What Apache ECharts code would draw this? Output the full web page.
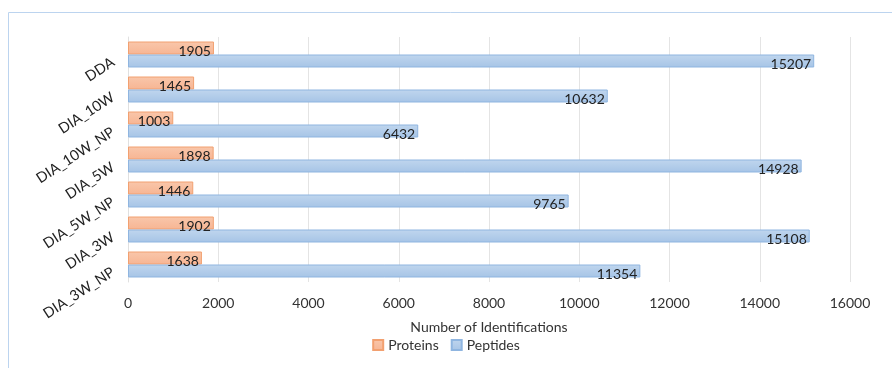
<!DOCTYPE html>
<html><head><meta charset="utf-8">
<script src="https://cdn.jsdelivr.net/npm/echarts@6/dist/echarts.min.js"></script>
<style>html,body{margin:0;padding:0;background:#fff}#c{width:892px;height:368px}</style>
</head><body><div id="c"></div>
<script>
const categories = ['DDA','DIA_10W','DIA_10W_NP','DIA_5W','DIA_5W_NP','DIA_3W','DIA_3W_NP'];
const proteins = [1905,1465,1003,1898,1446,1902,1638];
const peptides = [15207,10632,6432,14928,9765,15108,11354];
const xTicks = {min:0,max:16000,interval:2000};
const FONT = 'Lato';
const chart = echarts.init(document.getElementById('c'));
chart.setOption({
  animation:false,
  textStyle:{fontFamily:FONT},
  graphic:[
    {type:'line',shape:{x1:8.5,y1:12.5,x2:892,y2:12.5},style:{stroke:'#bcd4ef',lineWidth:1}},
    {type:'line',shape:{x1:8.5,y1:12.5,x2:8.5,y2:368},style:{stroke:'#bcd4ef',lineWidth:1}}
  ],
  grid:{left:128,right:42,top:37,bottom:86},
  legend:{bottom:11,left:'center',itemWidth:10,itemHeight:10,itemGap:12,itemTextGap:4,
    textStyle:{fontFamily:FONT,fontSize:14,color:'#333'},
    data:[{name:'Proteins',icon:'rect'},{name:'Peptides',icon:'rect'}]},
  xAxis:{type:'value',min:xTicks.min,max:xTicks.max,interval:xTicks.interval,
    name:'Number of Identifications',nameLocation:'middle',nameGap:38,
    nameTextStyle:{fontFamily:FONT,fontSize:14,color:'#333'},
    axisLine:{show:false},axisTick:{show:false},
    axisLabel:{fontFamily:FONT,fontSize:14,color:'#333',margin:14,formatter:v=>String(v)},
    splitLine:{lineStyle:{color:'#e4e4e4'}}},
  yAxis:{type:'category',data:categories,inverse:true,
    axisLine:{show:true,lineStyle:{color:'#e0e0e0'}},axisTick:{show:false},
    axisLabel:{fontFamily:FONT,fontSize:14.5,color:'#222',rotate:33,margin:19,verticalAlign:'top'}},
  series:[
    {name:'Proteins',type:'bar',data:proteins,barWidth:13,barGap:'0%',barCategoryGap:9,
     itemStyle:{color:{type:'linear',x:0,y:0,x2:0,y2:1,colorStops:[{offset:0,color:'#f9c7ab'},{offset:1,color:'#f7b593'}]},borderColor:'#f2a070',borderWidth:1},
     label:{show:true,position:'insideRight',offset:[0,3],color:'#222',fontFamily:FONT,fontSize:14,distance:3}},
    {name:'Peptides',type:'bar',data:peptides,barWidth:13,
     itemStyle:{color:{type:'linear',x:0,y:0,x2:0,y2:1,colorStops:[{offset:0,color:'#c0d6ee'},{offset:1,color:'#a6c4e6'}]},borderColor:'#8fb5e0',borderWidth:1},
     label:{show:true,position:'insideRight',offset:[0,3],color:'#222',fontFamily:FONT,fontSize:14,distance:3}}
  ]
});
</script></body></html>
